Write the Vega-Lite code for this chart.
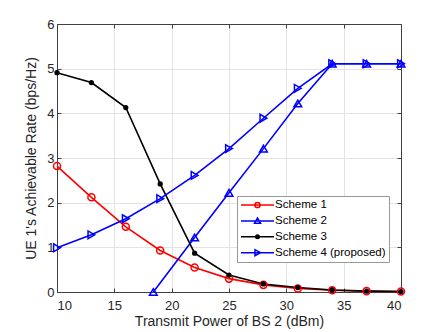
{
  "$schema": "https://vega.github.io/schema/vega-lite/v6.json",
  "autosize": {"type": "none"},
  "padding": {"left": 57, "top": 24, "right": 42, "bottom": 40},
  "width": 344,
  "height": 268,
  "background": "white",
  "config": {
    "font": "Liberation Sans",
    "view": {"stroke": null},
    "axis": {"labelFont": "Liberation Sans", "titleFont": "Liberation Sans", "labelColor": "#262626", "titleColor": "#262626", "titleFontWeight": "normal", "labelFontSize": 13, "titleFontSize": 14, "domainColor": "#404040", "tickColor": "#404040", "gridColor": "#e3e3e3", "gridOpacity": 1},
    "legend": {"orient": "none", "legendX": 180, "legendY": 172, "strokeColor": "#999999", "fillColor": "white", "padding": 3, "labelFont": "Liberation Sans", "labelFontSize": 11.5, "labelColor": "#000000", "symbolStrokeWidth": 1.5, "labelOffset": 23, "rowPadding": 3.9, "symbolOpacity": 1}
  },
  "data": {"values": [
    {"x": 10, "y": 2.82, "s": "Scheme 1"},
    {"x": 13, "y": 2.12, "s": "Scheme 1"},
    {"x": 16, "y": 1.46, "s": "Scheme 1"},
    {"x": 19, "y": 0.93, "s": "Scheme 1"},
    {"x": 22, "y": 0.55, "s": "Scheme 1"},
    {"x": 25, "y": 0.30, "s": "Scheme 1"},
    {"x": 28, "y": 0.16, "s": "Scheme 1"},
    {"x": 31, "y": 0.08, "s": "Scheme 1"},
    {"x": 34, "y": 0.04, "s": "Scheme 1"},
    {"x": 37, "y": 0.02, "s": "Scheme 1"},
    {"x": 40, "y": 0.01, "s": "Scheme 1"},
    {"x": 18.4, "y": 0.0, "s": "Scheme 2"},
    {"x": 22, "y": 1.22, "s": "Scheme 2"},
    {"x": 25, "y": 2.22, "s": "Scheme 2"},
    {"x": 28, "y": 3.21, "s": "Scheme 2"},
    {"x": 31, "y": 4.22, "s": "Scheme 2"},
    {"x": 34, "y": 5.11, "s": "Scheme 2"},
    {"x": 37, "y": 5.11, "s": "Scheme 2"},
    {"x": 40, "y": 5.11, "s": "Scheme 2"},
    {"x": 10, "y": 4.91, "s": "Scheme 3"},
    {"x": 13, "y": 4.69, "s": "Scheme 3"},
    {"x": 16, "y": 4.13, "s": "Scheme 3"},
    {"x": 19, "y": 2.42, "s": "Scheme 3"},
    {"x": 22, "y": 0.87, "s": "Scheme 3"},
    {"x": 25, "y": 0.38, "s": "Scheme 3"},
    {"x": 28, "y": 0.18, "s": "Scheme 3"},
    {"x": 31, "y": 0.10, "s": "Scheme 3"},
    {"x": 34, "y": 0.045, "s": "Scheme 3"},
    {"x": 37, "y": 0.02, "s": "Scheme 3"},
    {"x": 40, "y": 0.01, "s": "Scheme 3"},
    {"x": 10, "y": 0.99, "s": "Scheme 4 (proposed)"},
    {"x": 13, "y": 1.28, "s": "Scheme 4 (proposed)"},
    {"x": 16, "y": 1.64, "s": "Scheme 4 (proposed)"},
    {"x": 19, "y": 2.09, "s": "Scheme 4 (proposed)"},
    {"x": 22, "y": 2.61, "s": "Scheme 4 (proposed)"},
    {"x": 25, "y": 3.21, "s": "Scheme 4 (proposed)"},
    {"x": 28, "y": 3.89, "s": "Scheme 4 (proposed)"},
    {"x": 31, "y": 4.56, "s": "Scheme 4 (proposed)"},
    {"x": 34, "y": 5.11, "s": "Scheme 4 (proposed)"},
    {"x": 37, "y": 5.11, "s": "Scheme 4 (proposed)"},
    {"x": 40, "y": 5.11, "s": "Scheme 4 (proposed)"}
  ]},
  "layer": [
    {
      "mark": {"type": "line", "strokeWidth": 1.6},
      "encoding": {
        "x": {"field": "x", "type": "quantitative", "scale": {"domain": [10, 40], "nice": false}, "axis": {"title": "Transmit Power of BS 2 (dBm)", "values": [10, 15, 20, 25, 30, 35, 40], "tickSize": -4, "labelPadding": 11, "titlePadding": 2, "grid": true}},
        "y": {"field": "y", "type": "quantitative", "scale": {"domain": [0, 6], "nice": false}, "axis": {"title": "UE 1's Achievable Rate (bps/Hz)", "values": [0, 1, 2, 3, 4, 5, 6], "tickSize": -4, "labelPadding": 7, "titlePadding": 8, "grid": true}},
        "stroke": {"field": "s", "type": "nominal", "scale": {"domain": ["Scheme 1", "Scheme 2", "Scheme 3", "Scheme 4 (proposed)"], "range": ["#ff0000", "#0000ff", "#000000", "#0000ff"]}, "legend": null},
        "order": {"field": "x", "type": "quantitative"}
      }
    },
    {
      "mark": {"type": "point", "strokeWidth": 1.5, "opacity": 1},
      "encoding": {
        "x": {"field": "x", "type": "quantitative", "axis": null},
        "y": {"field": "y", "type": "quantitative", "axis": null},
        "stroke": {"field": "s", "type": "nominal", "scale": {"domain": ["Scheme 1", "Scheme 2", "Scheme 3", "Scheme 4 (proposed)"], "range": ["#ff0000", "#0000ff", "#000000", "#0000ff"]}, "legend": null},
        "fill": {"field": "s", "type": "nominal", "scale": {"domain": ["Scheme 1", "Scheme 2", "Scheme 3", "Scheme 4 (proposed)"], "range": ["transparent", "transparent", "#000000", "transparent"]}, "legend": null},
        "shape": {"field": "s", "type": "nominal", "scale": {"domain": ["Scheme 1", "Scheme 2", "Scheme 3", "Scheme 4 (proposed)"], "range": ["circle", "triangle-up", "circle", "triangle-right"]}, "legend": null},
        "size": {"field": "s", "type": "nominal", "scale": {"type": "ordinal", "domain": ["Scheme 1", "Scheme 2", "Scheme 3", "Scheme 4 (proposed)"], "range": [50, 60, 14, 60]}, "legend": null}
      }
    },
    {
      "transform": [{"filter": "datum.x > 1000"}],
      "mark": {"type": "point", "strokeWidth": 1.5, "opacity": 1},
      "encoding": {
        "x": {"field": "x", "type": "quantitative", "axis": {"orient": "top", "title": null, "labels": false, "grid": false, "tickSize": -4, "values": [10, 15, 20, 25, 30, 35, 40]}},
        "y": {"field": "y", "type": "quantitative", "axis": {"orient": "right", "title": null, "labels": false, "grid": false, "tickSize": -4, "values": [0, 1, 2, 3, 4, 5, 6]}},
        "stroke": {"field": "s", "type": "nominal", "scale": {"domain": ["Scheme 1", "Scheme 2", "Scheme 3", "Scheme 4 (proposed)"], "range": ["#ff0000", "#0000ff", "#000000", "#0000ff"]}, "legend": {"title": null}},
        "fill": {"field": "s", "type": "nominal", "scale": {"domain": ["Scheme 1", "Scheme 2", "Scheme 3", "Scheme 4 (proposed)"], "range": ["transparent", "transparent", "#000000", "transparent"]}, "legend": {"title": null}},
        "shape": {"field": "s", "type": "nominal", "scale": {"domain": ["Scheme 1", "Scheme 2", "Scheme 3", "Scheme 4 (proposed)"], "range": [
          "M-1,0H5.6M2.82,0A0.52,0.52 0 1,1 1.78,0A0.52,0.52 0 1,1 2.82,0Z",
          "M-1,0H5.6M2.3,-0.6L2.9,0.45L1.7,0.45Z",
          "M-1,0H5.6M2.65,0A0.35,0.35 0 1,1 1.95,0A0.35,0.35 0 1,1 2.65,0Z",
          "M-1,0H5.6M2.9,0L1.8,-0.6L1.8,0.6Z"
        ]}, "legend": {"title": null}}
      }
    }
  ],
  "resolve": {
    "scale": {"stroke": "independent", "fill": "independent", "shape": "independent", "size": "independent"},
    "axis": {"x": "independent", "y": "independent"},
    "legend": {"stroke": "independent", "fill": "independent", "shape": "independent"}
  }
}
